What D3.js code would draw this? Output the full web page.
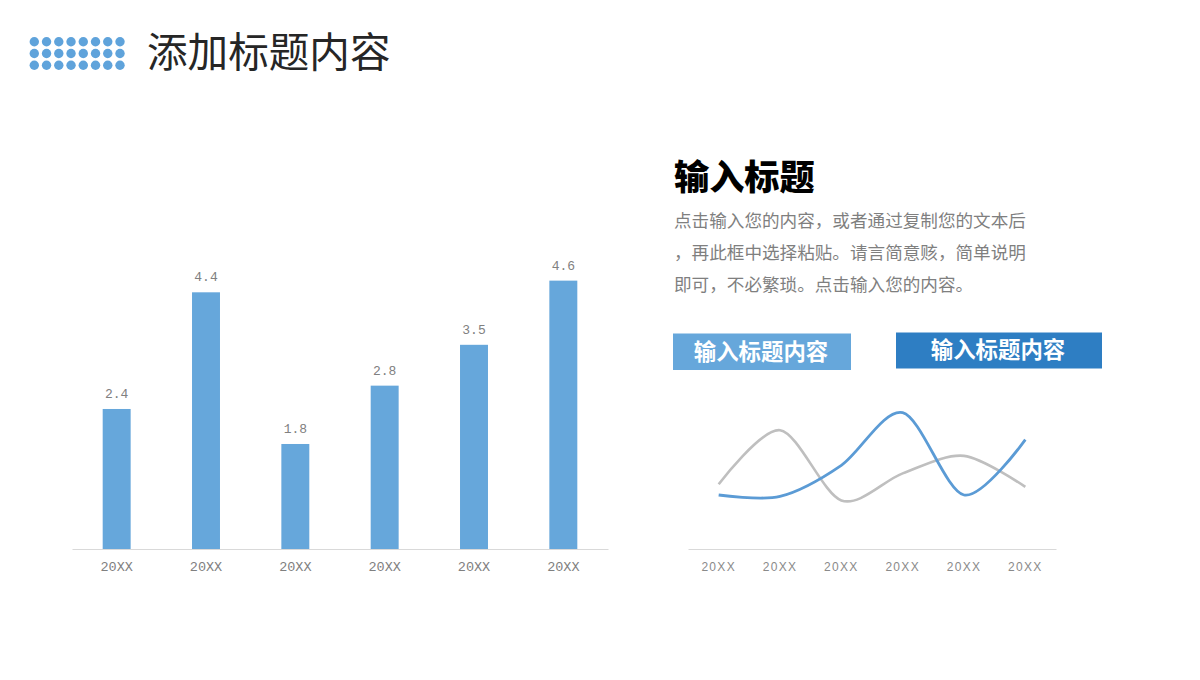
<!DOCTYPE html>
<html><head><meta charset="utf-8">
<script src="https://cdn.jsdelivr.net/npm/d3@7/dist/d3.min.js"></script>
<style>html,body{margin:0;padding:0;background:#fff;}</style>
</head><body><svg id="c" width="1200" height="680"></svg>
<script>
const categories = ["20XX","20XX","20XX","20XX","20XX","20XX"];
const barValues = [2.4, 4.4, 1.8, 2.8, 3.5, 4.6];
const lineCategories = ["20XX","20XX","20XX","20XX","20XX","20XX"];
const seriesBlue = [2.0, 1.95, 3.1, 5.05, 2.0, 4.05];
const seriesGray = [2.4, 4.4, 1.8, 2.8, 3.45, 2.3];
const pageTitle = "添加标题内容";
const sideTitle = "输入标题";
const bodyLines = ["点击输入您的内容，或者通过复制您的文本后","，再此框中选择粘贴。请言简意赅，简单说明","即可，不必繁琐。点击输入您的内容。"];
const tagLabels = ["输入标题内容","输入标题内容"];

const svg = d3.select("#c");
const CJK = "'Noto Sans CJK SC','Noto Sans',sans-serif";

// header dots
const dotCols = d3.range(8), dotRows = d3.range(3);
const dx = d3.scaleLinear().domain([0,7]).range([34.3,120]);
const dy = d3.scaleLinear().domain([0,2]).range([41.7,65.2]);
svg.append("g").selectAll("circle").data(d3.cross(dotRows,dotCols)).join("circle")
  .attr("cx",d=>dx(d[1])).attr("cy",d=>dy(d[0])).attr("r",4.7).attr("fill","#5fa3db");
svg.append("text").attr("x",147).attr("y",66.5).attr("font-family",CJK).attr("font-size",40.6)
  .attr("fill","#262626").text(pageTitle);

// bar chart
const x = d3.scaleBand().domain(d3.range(categories.length)).range([72,608]).paddingInner(0.687).paddingOuter(0.3435);
const y = d3.scaleLinear().domain([0,5]).range([549,257.3]);
const gb = svg.append("g");
gb.selectAll("rect").data(barValues).join("rect")
  .attr("x",(d,i)=>x(i)).attr("width",x.bandwidth())
  .attr("y",d=>y(d)).attr("height",d=>y(0)-y(d)).attr("fill","#66a7db");
gb.selectAll("text.v").data(barValues).join("text").attr("class","v")
  .attr("x",(d,i)=>x(i)+x.bandwidth()/2).attr("y",d=>y(d)-11)
  .attr("text-anchor","middle").attr("font-family","'Liberation Mono',monospace").attr("font-size",13)
  .attr("fill","#808080").text(d=>d.toFixed(1));
const xAxis = d3.axisBottom(x).tickSize(0).tickPadding(12).tickFormat(i=>categories[i]);
const ax = gb.append("g").attr("transform",`translate(0,${y(0)})`).call(xAxis);
ax.select(".domain").attr("stroke","#d9d9d9").attr("stroke-width",1.2);
ax.selectAll("text").attr("font-family","'Liberation Mono',monospace").attr("font-size",13.5).attr("fill","#808080");

// right text
svg.append("text").attr("x",674).attr("y",189.5).attr("font-family",CJK).attr("font-weight",900)
  .attr("font-size",35.2).attr("fill","#000").text(sideTitle);
svg.append("g").selectAll("text").data(bodyLines).join("text")
  .attr("x",674).attr("y",(d,i)=>227+i*32).attr("font-family",CJK).attr("font-size",17.6)
  .attr("fill","#7f7f7f").text(d=>d);

// tags
const tags = [{x:673,y:333.5,w:178,h:36.5,c:"#66a7db"},{x:896,y:332.5,w:206,h:36,c:"#2e7ec3"}];
const gt = svg.append("g");
gt.selectAll("rect").data(tags).join("rect").attr("x",d=>d.x).attr("y",d=>d.y).attr("width",d=>d.w)
  .attr("height",d=>d.h).attr("fill",d=>d.c);
gt.selectAll("text").data(tags).join("text").attr("x",d=>d.x+d.w/2-1).attr("y",d=>d.y+d.h/2+7.8)
  .attr("text-anchor","middle").attr("font-family",CJK).attr("font-weight","bold").attr("font-size",22.4)
  .attr("fill","#fff").text((d,i)=>tagLabels[i]);

// line chart
const lx = d3.scaleBand().domain(d3.range(lineCategories.length)).range([688,1056]);
const ly = d3.scaleLinear().domain([0,6]).range([549,387]);
const gl = svg.append("g");
const line = d3.line().x((d,i)=>lx(i)+lx.bandwidth()/2).y(d=>ly(d)).curve(d3.curveCardinal.tension(0.1));
gl.append("path").datum(seriesGray).attr("d",line).attr("fill","none").attr("stroke","#bfbfbf").attr("stroke-width",2.6);
gl.append("path").datum(seriesBlue).attr("d",line).attr("fill","none").attr("stroke","#5b9bd5").attr("stroke-width",2.8);
const lAxis = d3.axisBottom(lx).tickSize(0).tickPadding(13).tickFormat(i=>lineCategories[i]);
const lax = gl.append("g").attr("transform",`translate(0,${ly(0)})`).call(lAxis);
lax.select(".domain").attr("stroke","#d9d9d9").attr("stroke-width",1.2);
lax.selectAll("text").attr("font-family","'Liberation Sans',sans-serif").attr("font-size",12)
  .attr("letter-spacing","1.3px").attr("fill","#8a8a8a");
</script></body></html>
